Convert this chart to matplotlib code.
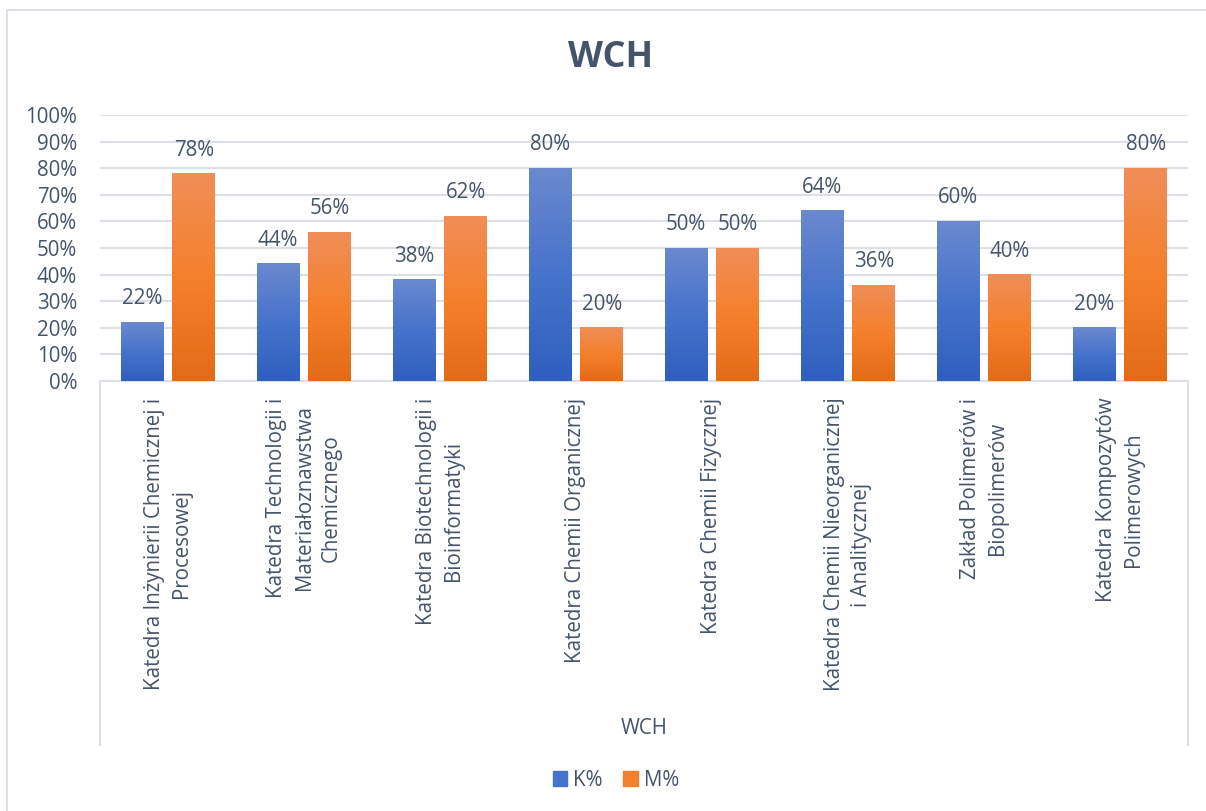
import matplotlib.pyplot as plt
import numpy as np
from matplotlib.colors import LinearSegmentedColormap
from matplotlib.patches import Patch, Rectangle
from matplotlib.lines import Line2D

plt.rcParams['font.family'] = ['Open Sans', 'DejaVu Sans']

# data
departments = [
    'Katedra Inżynierii Chemicznej i\nProcesowej',
    'Katedra Technologii i\nMateriałoznawstwa\nChemicznego',
    'Katedra Biotechnologii i\nBioinformatyki',
    'Katedra Chemii Organicznej',
    'Katedra Chemii Fizycznej',
    'Katedra Chemii Nieorganicznej\ni Analitycznej',
    'Zakład Polimerów i\nBiopolimerów',
    'Katedra Kompozytów\nPolimerowych',
]
k_pct = [22, 44, 38, 80, 50, 64, 60, 20]
m_pct = [78, 56, 62, 20, 50, 36, 40, 80]
series_names = ['K%', 'M%']
title = 'WCH'
group_label = 'WCH'

text_col = '#44546A'
grid_col = '#DCE0E6'
blue_grad = ['#2F5FBF', '#4673CB', '#6A89CF']     # bottom -> top
orange_grad = ['#E36B17', '#F5802B', '#F08E58']
fs = 14.8

W, H = 1206, 811
fig = plt.figure(figsize=(W / 100, H / 100), dpi=100)
ax = fig.add_axes([100 / W, (H - 381) / H, (1188 - 100) / W, 266 / H])

bar_w = 0.316
off = 0.19
x = np.arange(len(departments))


def grad_bar(xc, h, colors):
    cmap = LinearSegmentedColormap.from_list('g', colors)
    ax.imshow(np.linspace(0, 1, 256).reshape(-1, 1), cmap=cmap, origin='lower',
              extent=[xc - bar_w / 2, xc + bar_w / 2, 0, h], aspect='auto',
              interpolation='bilinear', zorder=3)
    ax.annotate(f'{h:.0f}%', (xc, h), xytext=(0, 18), textcoords='offset pixels',
                ha='center', va='baseline', fontsize=fs, color=text_col)


for i in range(len(departments)):
    grad_bar(x[i] - off, k_pct[i], blue_grad)
    grad_bar(x[i] + off, m_pct[i], orange_grad)

ax.set_xlim(-0.5, len(departments) - 0.5)
ax.set_ylim(0, 100)
ax.set_yticks(np.arange(0, 101, 10))
ax.set_yticklabels([f'{v}%' for v in range(0, 101, 10)])
ax.yaxis.grid(True, color=grid_col, linewidth=1.5, zorder=0)
ax.set_axisbelow(True)
for s in ['top', 'right', 'left']:
    ax.spines[s].set_visible(False)
ax.spines['bottom'].set_color(grid_col)
ax.spines['bottom'].set_linewidth(1.5)
ax.tick_params(axis='both', length=0, labelsize=fs, labelcolor=text_col)
ax.tick_params(axis='y', pad=16.5)
ax.tick_params(axis='x', pad=12)
ax.set_xticks(x)
ax.set_xticklabels(departments, rotation=90, ha='center', va='top',
                   multialignment='center', linespacing=1.42)

# separators of outer category
for px in (100, 1188):
    fig.add_artist(Line2D([px / W, px / W], [(H - 381) / H, (H - 745) / H],
                          color=grid_col, linewidth=1.5))
fig.text(644 / W, (H - 729) / H, group_label, ha='center', va='center',
         fontsize=fs, color=text_col)

fig.text(611 / W, (H - 58) / H, title, ha='center', va='center',
         fontsize=26, fontweight='bold', color=text_col)

# chart border
fig.add_artist(Rectangle((7 / W, -0.01), 1.1, (H - 10) / H + 0.01,
                         transform=fig.transFigure, fill=False,
                         edgecolor=grid_col, linewidth=1.5))

handles = [Patch(color=blue_grad[1]), Patch(color=orange_grad[1])]
fig.legend(handles, series_names, loc='center', bbox_to_anchor=(616 / W, (H - 780) / H),
           ncol=2, frameon=False, fontsize=fs, labelcolor=text_col,
           handlelength=0.7, handleheight=0.7, handletextpad=0.3, columnspacing=1.0)

fig.savefig('out.png', dpi=100)
